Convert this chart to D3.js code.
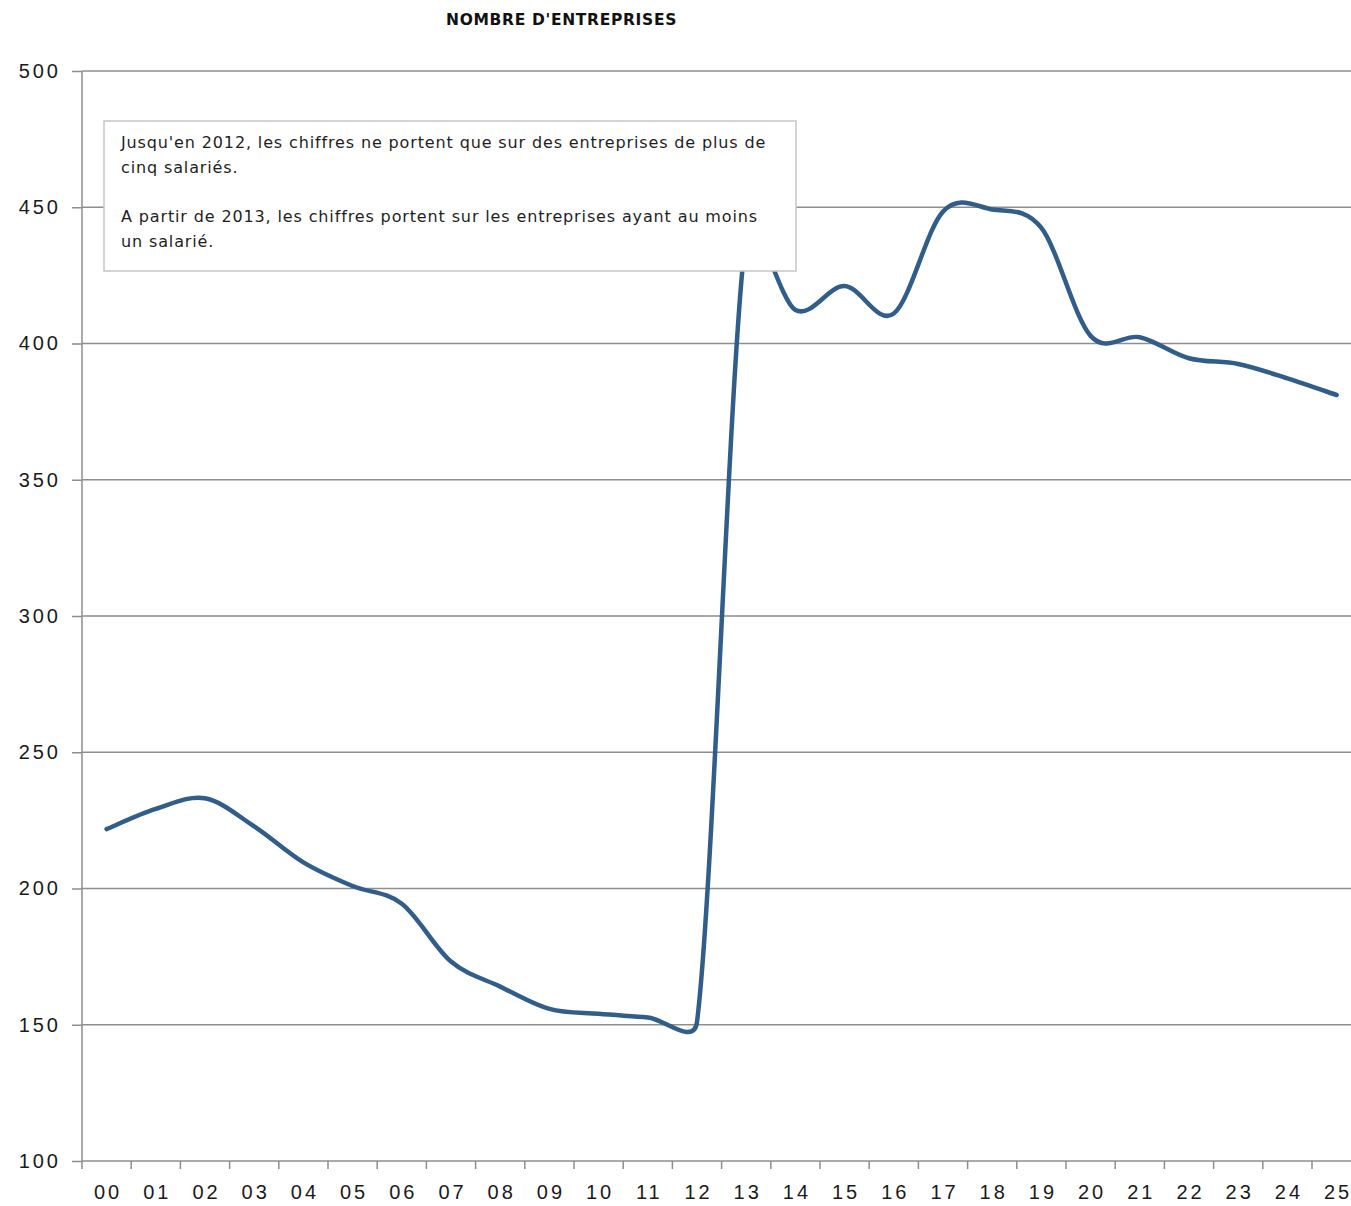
<!DOCTYPE html>
<html lang="fr">
<head>
    <meta charset="UTF-8">
    <title>Nombre d'entreprises</title>
    <script src="https://d3js.org/d3.v7.min.js"></script>
    <style>
        body { margin: 0; background: #fff; }
        svg { font-family: "DejaVu Sans", sans-serif; }
        .title { font-weight: bold; font-size: 15.5px; fill: #111; }
        .axis text { font-size: 20px; fill: #1a1a1a; letter-spacing: 3px; }
        .axis path, .axis line { stroke: #8e8e8e; stroke-width: 1.5px; }
        .grid line { stroke: #8e8e8e; stroke-width: 1.5px; }
        .line { fill: none; stroke: #305d8a; stroke-width: 4.5px; stroke-linecap: round; stroke-linejoin: round; }
        .note-box { fill: #fff; stroke: #c6c6c6; stroke-width: 1.5px; }
        .note { font-size: 16px; fill: #1e1e1e; }
    </style>
</head>
<body>
<div id="chart"></div>
<script>
    // Categories (years 2000..2025)
    const years = ["00","01","02","03","04","05","06","07","08","09","10","11","12",
                   "13","14","15","16","17","18","19","20","21","22","23","24","25"];
    // Number of companies
    const companies = [221.8, 229.2, 233.1, 222.8, 209.6, 200.9, 194.4, 173.2, 164.0, 155.8, 154.0, 152.7, 151.0,
                       440.0, 412.3, 421.1, 411.0, 448.4, 449.2, 442.4, 402.8, 402.3, 394.6, 392.5, 387.2, 381.1];
    const yTicks = [100, 150, 200, 250, 300, 350, 400, 450, 500];
    const noteLines = [
        "Jusqu'en 2012, les chiffres ne portent que sur des entreprises de plus de",
        "cinq salariés.",
        "",
        "A partir de 2013, les chiffres portent sur les entreprises ayant au moins",
        "un salarié."
    ];

    const W = 1351, H = 1206;
    const margin = { top: 71, left: 82, bottom: 45 };
    const plotW = 26 * 49.2;
    const plotH = H - margin.top - margin.bottom;

    const svg = d3.select("#chart").append("svg")
        .attr("width", W).attr("height", H);

    const title = svg.append("text").attr("class", "title")
        .attr("x", 561.5).attr("y", 25).attr("text-anchor", "middle")
        .text("NOMBRE D'ENTREPRISES");
    fitWidth(title, 231);

    const g = svg.append("g").attr("transform", `translate(${margin.left},${margin.top})`);

    const x = d3.scaleBand().domain(years).range([0, plotW]).padding(0);
    const y = d3.scaleLinear().domain([100, 500]).range([plotH, 0]);

    // Gridlines
    g.append("g").attr("class", "grid")
        .selectAll("line").data(yTicks.filter(t => t > 100)).join("line")
        .attr("x1", 0).attr("x2", plotW)
        .attr("y1", d => y(d)).attr("y2", d => y(d));

    // Y axis
    const yAxis = g.append("g").attr("class", "axis")
        .call(d3.axisLeft(y).tickValues(yTicks).tickSize(10).tickPadding(11));
    yAxis.select(".domain").attr("d", `M0,0V${plotH}`);
    yAxis.selectAll("text").attr("dy", "0.32em");

    // X axis: labels centred, ticks at category boundaries
    const xAxis = g.append("g").attr("class", "axis")
        .attr("transform", `translate(0,${plotH})`)
        .call(d3.axisBottom(x).tickSize(0).tickPadding(24));
    xAxis.select(".domain").attr("d", `M0,0H${plotW}`);
    xAxis.selectAll(".tick text").attr("dy", "0.71em").attr("dx", "1.5px");
    xAxis.selectAll(".bound").data(years).join("line").attr("class", "bound")
        .attr("x1", d => x(d)).attr("x2", d => x(d))
        .attr("y1", 0).attr("y2", 8);

    // Spreadsheet-style smoothed line: Bezier arms of 1/6 of the neighbour
    // chord, never longer than half of the segment
    function smoothPath(pts) {
        const p = d3.path();
        const dist = (a, b) => Math.hypot(b[0] - a[0], b[1] - a[1]);
        p.moveTo(pts[0][0], pts[0][1]);
        for (let i = 0; i < pts.length - 1; i++) {
            const p0 = pts[Math.max(i - 1, 0)], p1 = pts[i], p2 = pts[i + 1], p3 = pts[Math.min(i + 2, pts.length - 1)];
            const d12 = dist(p1, p2), d02 = dist(p0, p2), d13 = dist(p1, p3);
            let f1 = 1 / 6, f2 = 1 / 6;
            if (d02 / 6 >= d12 / 2) f1 = d12 / (2 * d02);
            if (d13 / 6 >= d12 / 2) f2 = d12 / (2 * d13);
            const c1 = [p1[0] + f1 * (p2[0] - p0[0]), p1[1] + f1 * (p2[1] - p0[1])];
            const c2 = [p2[0] - f2 * (p3[0] - p1[0]), p2[1] - f2 * (p3[1] - p1[1])];
            p.bezierCurveTo(c1[0], c1[1], c2[0], c2[1], p2[0], p2[1]);
        }
        return p.toString();
    }

    const pts = companies.map((v, i) => [x(years[i]) + x.bandwidth() / 2, y(v)]);
    g.append("path").attr("class", "line").attr("d", smoothPath(pts));

    // Note box
    const note = svg.append("g").attr("transform", "translate(104,121)");
    note.append("rect").attr("class", "note-box")
        .attr("width", 692).attr("height", 150);
    const noteText = note.selectAll("text").data(noteLines).join("text").attr("class", "note")
        .attr("x", 17).attr("y", (d, i) => 27 + i * 24.7)
        .text(d => d);
    fitWidth(d3.select(noteText.nodes()[0]), 645);
    const ls = d3.select(noteText.nodes()[0]).style("letter-spacing");
    noteText.style("letter-spacing", ls);

    // spread letters so a text takes the wanted width
    function fitWidth(sel, target) {
        const node = sel.node();
        const len = node.getComputedTextLength();
        const n = node.textContent.length;
        sel.style("letter-spacing", ((target - len) / n) + "px");
    }
</script>
</body>
</html>
